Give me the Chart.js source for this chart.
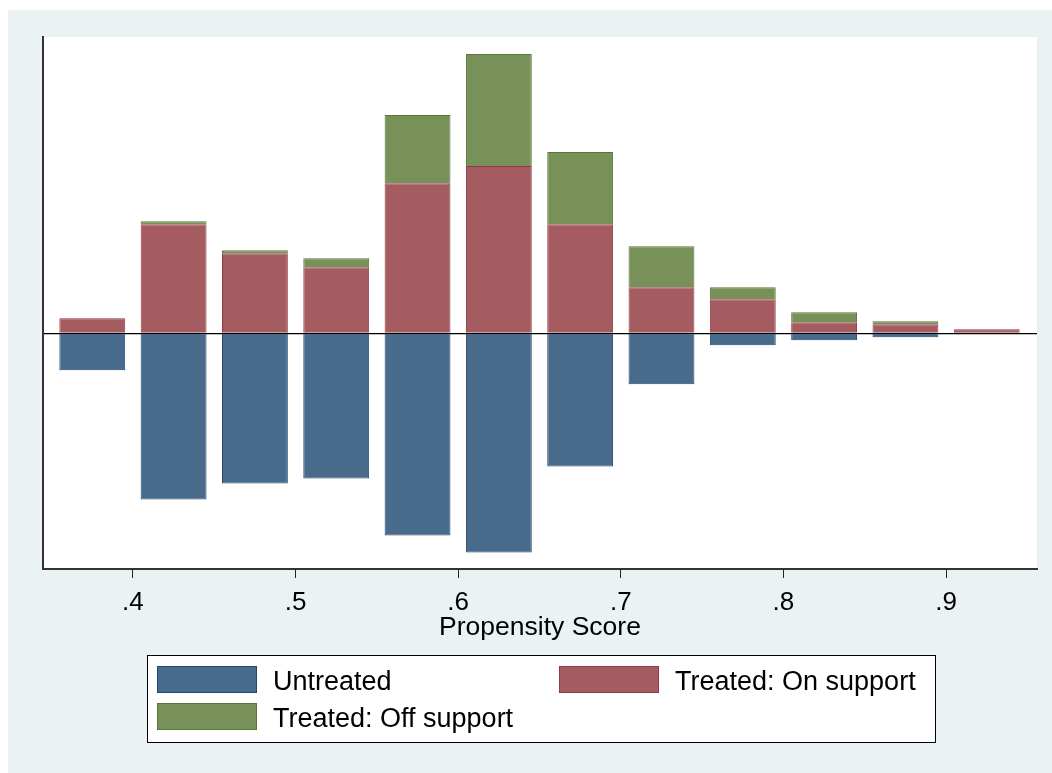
<!DOCTYPE html>
<html>
<head>
<meta charset="utf-8">
<script src="https://cdn.jsdelivr.net/npm/chart.js@4/dist/chart.umd.min.js"></script>
<style>
  html, body { margin: 0; padding: 0; background: #ffffff; }
  #wrap { position: absolute; left: 8px; top: 10px; width: 1044px; height: 763px; }
</style>
</head>
<body>
<div id="wrap"><canvas id="c" width="1044" height="763"></canvas></div>
<script>
// Propensity score bin midpoints (bin width .05)
const binCenters = [0.375, 0.425, 0.475, 0.525, 0.575, 0.625, 0.675, 0.725, 0.775, 0.825, 0.875, 0.925];
// Untreated shown below the zero line
const untreated = [-0.37, -1.66, -1.50, -1.45, -2.02, -2.19, -1.33, -0.51, -0.12, -0.07, -0.04, null];
// Treated on support (stacked above zero)
const treatedOn = [0.15, 1.09, 0.80, 0.66, 1.50, 1.67, 1.09, 0.46, 0.34, 0.11, 0.09, 0.04];
// Treated off support (stacked on top of on-support)
const treatedOff = [null, 0.03, 0.03, 0.09, 0.68, 1.12, 0.72, 0.41, 0.12, 0.10, 0.03, null];
const xTicks = [0.4, 0.5, 0.6, 0.7, 0.8, 0.9];
const seriesLabels = ['Untreated', 'Treated: On support', 'Treated: Off support'];

const FONT = 'Liberation Sans, Arial, Helvetica, sans-serif';
const toPoints = arr => binCenters.map((x, i) => ({ x: x, y: arr[i] }));

const backgroundPlugin = {
  id: 'bg',
  beforeDraw(chart) {
    const { ctx, chartArea: a } = chart;
    ctx.save();
    ctx.fillStyle = '#eaf2f3';
    ctx.fillRect(0, 0, chart.width, chart.height);
    ctx.fillStyle = '#ffffff';
    ctx.fillRect(a.left, a.top, a.right - a.left, a.bottom - a.top);
    ctx.restore();
  }
};

// Boxed two-column legend under the axis title
const boxLegend = {
  id: 'boxLegend',
  afterDraw(chart) {
    const ctx = chart.ctx;
    const ds = chart.data.datasets;
    const box = { x: 139.5, y: 645.5, w: 788, h: 87 };
    ctx.save();
    ctx.fillStyle = '#ffffff';
    ctx.fillRect(box.x, box.y, box.w, box.h);
    ctx.strokeStyle = '#000000';
    ctx.lineWidth = 1;
    ctx.strokeRect(box.x, box.y, box.w, box.h);
    const slots = [
      { sx: 149, sy: 656 },
      { sx: 551, sy: 656 },
      { sx: 149, sy: 693 }
    ];
    ctx.font = '27px ' + FONT;
    ctx.textBaseline = 'middle';
    ctx.textAlign = 'left';
    ds.forEach((d, i) => {
      const s = slots[i];
      ctx.fillStyle = d.backgroundColor;
      ctx.fillRect(s.sx, s.sy, 100, 27);
      ctx.strokeStyle = d.borderColor;
      ctx.lineWidth = 1;
      ctx.strokeRect(s.sx + 0.5, s.sy + 0.5, 99, 26);
      ctx.fillStyle = '#000000';
      ctx.fillText(d.label, s.sx + 116, s.sy + 17);
    });
    ctx.restore();
  }
};

new Chart(document.getElementById('c'), {
  type: 'bar',
  data: {
    datasets: [
      { label: seriesLabels[0], data: toPoints(untreated), backgroundColor: 'rgb(72,106,139)', borderColor: 'rgb(30,74,112)', borderWidth: 1, stack: 's' },
      { label: seriesLabels[1], data: toPoints(treatedOn), backgroundColor: 'rgb(164,92,96)', borderColor: 'rgb(146,58,64)', borderWidth: 1, stack: 's' },
      { label: seriesLabels[2], data: toPoints(treatedOff), backgroundColor: 'rgb(120,145,88)', borderColor: 'rgb(88,118,52)', borderWidth: 1, stack: 's' }
    ]
  },
  options: {
    responsive: false,
    animation: false,
    devicePixelRatio: 1,
    layout: { padding: { left: 35, top: 27, right: 15, bottom: 129 } },
    datasets: { bar: { barPercentage: 0.81, categoryPercentage: 1.0 } },
    plugins: { legend: { display: false }, tooltip: { enabled: false } },
    scales: {
      x: {
        type: 'linear',
        stacked: true,
        offset: false,
        min: 0.3447,
        max: 0.9559,
        afterBuildTicks: s => { s.ticks = xTicks.map(v => ({ value: v })); },
        ticks: {
          color: '#000000',
          font: { family: FONT, size: 26 },
          padding: 9,
          maxRotation: 0,
          callback: v => v.toFixed(1).replace(/^0/, '')
        },
        grid: { display: true, offset: false, drawOnChartArea: false, drawTicks: true, tickLength: 9, color: '#222222', lineWidth: 1 },
        border: { display: true, color: '#333333', width: 2 },
        title: {
          display: true,
          text: 'Propensity Score',
          color: '#000000',
          font: { family: FONT, size: 26.5 },
          padding: { top: -15, bottom: 0 }
        }
      },
      y: {
        stacked: true,
        min: -2.355,
        max: 2.96,
        afterBuildTicks: s => { s.ticks = [{ value: 0 }]; },
        ticks: { display: false },
        grid: {
          drawTicks: false,
          color: c => (c.tick && c.tick.value === 0 ? '#000000' : 'rgba(0,0,0,0)'),
          lineWidth: 1.2
        },
        border: { display: true, color: '#333333', width: 2 }
      }
    }
  },
  plugins: [backgroundPlugin, boxLegend]
});
</script>
</body>
</html>
